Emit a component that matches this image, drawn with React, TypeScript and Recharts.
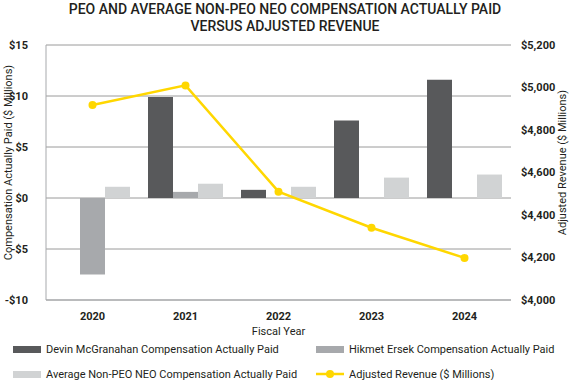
import React from "react";
import {
  ComposedChart,
  Bar,
  Line,
  XAxis,
  YAxis,
  CartesianGrid,
} from "recharts";

const years = ["2020", "2021", "2022", "2023", "2024"];
const mcgranahanCap = [null, 9.9, 0.8, 7.6, 11.6];
const ersekCap = [-7.5, 0.6, null, null, null];
const avgNeoCap = [1.1, 1.4, 1.1, 2.0, 2.3];
const adjustedRevenue = [4918, 5010, 4510, 4340, 4198];

const compTicks = [-10, -5, 0, 5, 10, 15];
const revenueTicks = [4000, 4200, 4400, 4600, 4800, 5000, 5200];

const data = years.map((year, i) => ({
  year,
  mcgranahan: mcgranahanCap[i],
  ersek: ersekCap[i],
  avgNeo: avgNeoCap[i],
  revenue: adjustedRevenue[i],
}));

const COLORS = {
  mcgranahan: "#58595b",
  ersek: "#a7a9ac",
  avgNeo: "#d1d3d4",
  revenue: "#ffd700",
};

const W = 570;
const H = 380;
const LEFT_AXIS_W = 46;
const RIGHT_AXIS_W = 59;

const FONT = "Roboto, 'Noto Sans', sans-serif";
const tickStyle = { fontSize: 11, fontWeight: 700, fill: "#231f20", fontFamily: FONT };
const labelStyle = { textAnchor: "middle", fontSize: 11, fill: "#231f20", fontFamily: FONT };

const fmtComp = (v: number) => (v < 0 ? `-$${Math.abs(v)}` : `$${v}`);
const fmtRev = (v: number) => `$${v.toLocaleString("en-US")}`;

const legendItems = [
  { label: "Devin McGranahan Compensation Actually Paid", color: COLORS.mcgranahan, type: "bar" },
  { label: "Hikmet Ersek Compensation Actually Paid", color: COLORS.ersek, type: "bar" },
  { label: "Average Non-PEO NEO Compensation Actually Paid", color: COLORS.avgNeo, type: "bar" },
  { label: "Adjusted Revenue ($ Millions)", color: COLORS.revenue, type: "line" },
];

function ChartLegend() {
  return (
    <div
      style={{
        position: "absolute",
        left: 13,
        top: 341,
        display: "grid",
        gridTemplateColumns: "303px 240px",
        rowGap: 9,
        fontFamily: FONT,
        fontSize: 11,
        color: "#231f20",
        whiteSpace: "nowrap",
      }}
    >
      {legendItems.map((item) => (
        <div key={item.label} style={{ display: "flex", alignItems: "center", height: 16 }}>
          {item.type === "bar" ? (
            <span style={{ width: 28, height: 7, background: item.color, marginRight: 5 }} />
          ) : (
            <svg width={28} height={10} style={{ marginRight: 5 }}>
              <line x1={0} y1={5} x2={28} y2={5} stroke={item.color} strokeWidth={2.5} />
              <circle cx={14} cy={5} r={4} fill={item.color} />
            </svg>
          )}
          <span>{item.label}</span>
        </div>
      ))}
    </div>
  );
}

export default function App() {
  return (
    <div style={{ position: "absolute", left: 0, top: 0, width: W, height: H, background: "#fff" }}>
      <div
        style={{
          position: "absolute",
          left: 0,
          top: 1,
          width: W,
          textAlign: "center",
          fontFamily: FONT,
          fontWeight: 500,
          fontSize: 14,
          lineHeight: "17px",
          color: "#231f20",
        }}
      >
        PEO AND AVERAGE NON-PEO NEO COMPENSATION ACTUALLY PAID
        <br />
        VERSUS ADJUSTED REVENUE
      </div>
      <ComposedChart
        width={W}
        height={H}
        data={data}
        margin={{ top: 45, right: 0, bottom: 0, left: 0 }}
        barGap={0}
        barCategoryGap={9}
      >
        <CartesianGrid vertical={false} stroke="#9a9a9a" strokeWidth={1} />
        <YAxis
          width={LEFT_AXIS_W}
          domain={[-10, 15]}
          ticks={compTicks}
          tickFormatter={fmtComp}
          tick={tickStyle}
          tickLine={false}
          axisLine={{ stroke: "#a7a9ac" }}
          tickMargin={12}
          label={{
            value: "Compensation Actually Paid ($ Millions)",
            angle: -90,
            position: "insideLeft",
            offset: 0,
            dx: 8,
            dy: -10,
            style: labelStyle,
          }}
        />
        <XAxis
          dataKey="year"
          height={80}
          tick={tickStyle}
          tickLine={false}
          axisLine={{ stroke: "#a7a9ac" }}
          tickMargin={6}
          label={{
            value: "Fiscal Year",
            position: "insideTop",
            offset: 27,
            style: labelStyle,
          }}
        />
        <YAxis
          yAxisId="right"
          orientation="right"
          width={RIGHT_AXIS_W}
          domain={[4000, 5200]}
          ticks={revenueTicks}
          tickFormatter={fmtRev}
          tick={tickStyle}
          tickLine={false}
          axisLine={false}
          tickMargin={4}
          label={{
            value: "Adjusted Revenue ($ Millions)",
            angle: -90,
            position: "insideRight",
            offset: 0,
            dx: -8,
            dy: -10,
            style: labelStyle,
          }}
        />
        <Bar dataKey="mcgranahan" fill={COLORS.mcgranahan} isAnimationActive={false} />
        <Bar dataKey="ersek" fill={COLORS.ersek} isAnimationActive={false} />
        <Bar dataKey="avgNeo" fill={COLORS.avgNeo} isAnimationActive={false} />
        <Line
          yAxisId="right"
          dataKey="revenue"
          stroke={COLORS.revenue}
          strokeWidth={2.5}
          dot={{ r: 4, fill: COLORS.revenue, stroke: COLORS.revenue, strokeWidth: 0 }}
          isAnimationActive={false}
        />
      </ComposedChart>
      <ChartLegend />
    </div>
  );
}
